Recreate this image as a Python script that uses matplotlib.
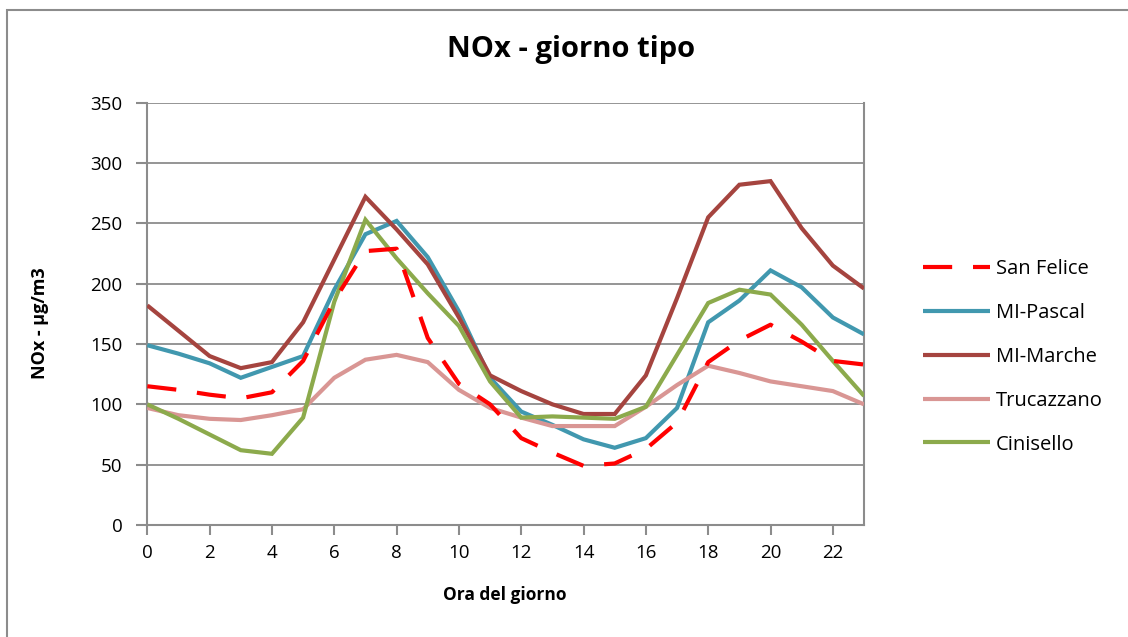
import matplotlib
matplotlib.use("Agg")
import matplotlib.pyplot as plt
from matplotlib.patches import Rectangle

plt.rcParams['font.family'] = ['Open Sans', 'DejaVu Sans']

hours = list(range(24))
san_felice = [115, 112, 108, 105, 110, 136, 186, 227, 229, 155, 117, 100,
              72, 60, 49, 51, 63, 85, 135, 153, 166, 152, 136, 133]
mi_pascal = [149, 142, 134, 122, 131, 140, 195, 241, 252, 222, 177, 122,
             94, 83, 71, 64, 72, 97, 168, 186, 211, 197, 172, 158]
mi_marche = [182, 161, 140, 130, 135, 168, 220, 272, 245, 216, 172, 124,
             111, 100, 92, 92, 124, 188, 255, 282, 285, 246, 215, 196]
trucazzano = [97, 91, 88, 87, 91, 96, 122, 137, 141, 135, 112, 97,
              89, 82, 82, 82, 98, 116, 132, 126, 119, 115, 111, 100]
cinisello = [100, 88, 75, 62, 59, 89, 185, 253, 221, 192, 165, 119,
             89, 90, 89, 88, 98, 141, 184, 195, 191, 166, 136, 107]

series = [
    ("San Felice", san_felice, "#FF0000", "dash"),
    ("MI-Pascal", mi_pascal, "#4198AF", "solid"),
    ("MI-Marche", mi_marche, "#A5443F", "solid"),
    ("Trucazzano", trucazzano, "#D99694", "solid"),
    ("Cinisello", cinisello, "#8CAA4C", "solid"),
]

x_ticks = list(range(0, 24, 2))
y_ticks = list(range(0, 351, 50))

W, H = 1128, 637
fig = plt.figure(figsize=(W / 100, H / 100), dpi=100)
fig.patch.set_facecolor("white")

# outer chart frame
fig.patches.append(Rectangle((7 / W, -0.05), 1.2, 1 - 10 / H + 0.05,
                             transform=fig.transFigure, fill=False,
                             edgecolor="#8C8C8C", linewidth=1.5))

ax = fig.add_axes([147.3 / W, 1 - 525 / H, (864 - 147.3) / W, (525 - 102.7) / H])

handles = []
for name, vals, color, style in series:
    if style == "dash":
        ln, = ax.plot(hours, vals, color=color, linewidth=3.0,
                      dashes=(7, 5), dash_capstyle="butt", zorder=6)
    else:
        ln, = ax.plot(hours, vals, color=color, linewidth=3.0,
                      solid_capstyle="butt", solid_joinstyle="miter", zorder=3)
    handles.append((ln, name))

ax.set_xlim(0, 23)
ax.set_ylim(0, 350)
ax.set_xticks(x_ticks)
ax.set_yticks(y_ticks)
ax.set_xticklabels([str(t) for t in x_ticks])
ax.set_yticklabels([str(t) for t in y_ticks])
ax.yaxis.grid(True, color="#8C8C8C", linewidth=1.3)
ax.set_axisbelow(True)

for side in ("left", "bottom", "right"):
    ax.spines[side].set_color("#8C8C8C")
    ax.spines[side].set_linewidth(1.5)
ax.spines["top"].set_visible(False)

ax.tick_params(axis="both", colors="#8C8C8C", labelcolor="black",
               labelsize=13.5, width=1.5)
ax.tick_params(axis="y", length=8, pad=10)
ax.tick_params(axis="x", length=7, pad=7)

fig.text(571 / W, 1 - 50 / H, "NOx - giorno tipo", ha="center", va="center",
         fontsize=21, fontweight="bold")
fig.text(505 / W, 1 - 595 / H, "Ora del giorno", ha="center", va="center",
         fontsize=12.5, fontweight="bold")
fig.text(40 / W, 1 - 323 / H, "NOx - µg/m3", ha="center", va="center",
         rotation=90, fontsize=13, fontweight="bold")

leg = fig.legend([h for h, _ in handles], [n for _, n in handles],
                 loc="center left", bbox_to_anchor=(905 / W, 1 - 357 / H),
                 frameon=False, fontsize=14.5, handlelength=3.3,
                 handletextpad=0.3, labelspacing=1.18)

fig.savefig("out.png", dpi=100, facecolor="white")
